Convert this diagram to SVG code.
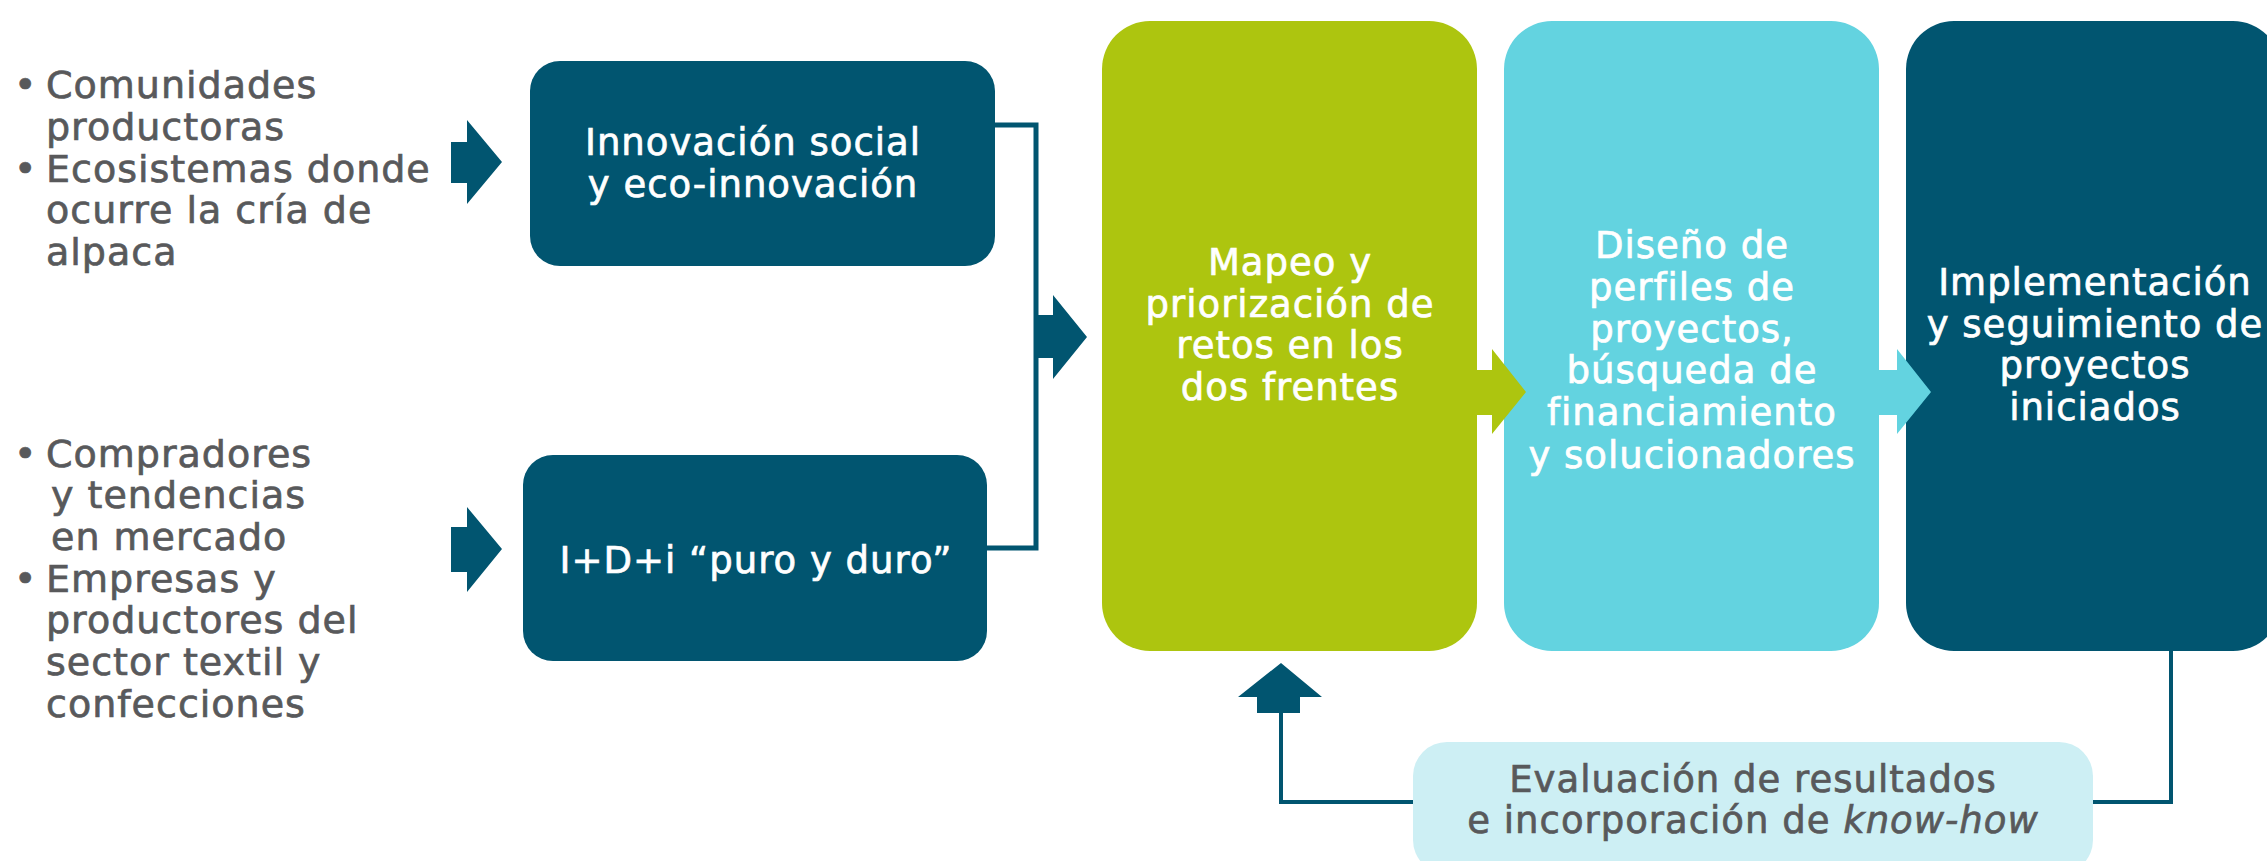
<svg xmlns="http://www.w3.org/2000/svg" width="2267" height="861" viewBox="0 0 2267 861">
<style>
.t{font-family:"DejaVu Sans","Liberation Sans",sans-serif;font-size:37px;letter-spacing:1px}
.side{font-family:"DejaVu Sans","Liberation Sans",sans-serif;font-size:38px;letter-spacing:1px;fill:#58595B;stroke:#58595B;stroke-width:0.7px}
.w{fill:#FFFFFF;stroke:#FFFFFF;stroke-width:0.7px;text-anchor:middle}
.g{fill:#58595B;stroke:#58595B;stroke-width:0.7px;text-anchor:middle}
.dark{fill:#015570}
.green{fill:#ADC50F}
.cyan{fill:#63D3E0}
.light{fill:#CDEFF4}
.ln{fill:none;stroke:#015570}
</style>
<rect width="2267" height="861" fill="#FFFFFF"/>

<g id="inputs-top">
<text class="side" x="14" y="98">•</text>
<text class="side" x="46" y="98">Comunidades</text>
<text class="side" x="46" y="140">productoras</text>
<text class="side" x="14" y="182">•</text>
<text class="side" x="46" y="182">Ecosistemas donde</text>
<text class="side" x="46" y="223">ocurre la cría de</text>
<text class="side" x="46" y="265">alpaca</text>
</g>

<g id="inputs-bottom">
<text class="side" x="14" y="467">•</text>
<text class="side" x="46" y="467">Compradores</text>
<text class="side" x="51" y="508">y tendencias</text>
<text class="side" x="51" y="550">en mercado</text>
<text class="side" x="14" y="592">•</text>
<text class="side" x="46" y="592">Empresas y</text>
<text class="side" x="46" y="633">productores del</text>
<text class="side" x="46" y="675">sector textil y</text>
<text class="side" x="46" y="717">confecciones</text>
</g>

<g id="connectors">
<path class="ln" stroke-width="5" d="M993,125 H1036 V548 H985"/>
<path class="ln" stroke-width="4" d="M1281,710 V802 H1415"/>
<path class="ln" stroke-width="4" d="M2171,649 V802 H2091"/>
<polygon class="dark" points="451,142 467,142 467,120 502,162 467,204 467,183 451,183"/>
<polygon class="dark" points="451,527 467,527 467,507 502,549 467,592 467,572 451,572"/>
<polygon class="dark" points="1038,315 1053,315 1053,295 1087,337 1053,379 1053,358 1038,358"/>
<polygon class="dark" points="1281,663 1322,697 1300,697 1300,713 1257,713 1257,697 1238,697"/>
</g>

<g id="node-innovacion-social">
<rect class="dark" x="530" y="61" width="465" height="205" rx="30" ry="30"/>
<text class="t w" x="753" y="155">Innovación social</text>
<text class="t w" x="753" y="197">y eco-innovación</text>
</g>

<g id="node-idi">
<rect class="dark" x="523" y="455" width="464" height="206" rx="30" ry="30"/>
<text class="t w" x="756" y="573" letter-spacing="0.5">I+D+i “puro y duro”</text>
</g>

<g id="node-mapeo">
<rect class="green" x="1102" y="21" width="375" height="630" rx="48" ry="48"/>
<text class="t w" x="1290" y="275">Mapeo y</text>
<text class="t w" x="1290" y="317">priorización de</text>
<text class="t w" x="1290" y="358">retos en los</text>
<text class="t w" x="1290" y="400">dos frentes</text>
</g>

<g id="node-diseno">
<rect class="cyan" x="1504" y="21" width="375" height="630" rx="48" ry="48"/>
<text class="t w" x="1692" y="258">Diseño de</text>
<text class="t w" x="1692" y="300">perfiles de</text>
<text class="t w" x="1692" y="342">proyectos,</text>
<text class="t w" x="1692" y="383">búsqueda de</text>
<text class="t w" x="1692" y="425">financiamiento</text>
<text class="t w" x="1692" y="468">y solucionadores</text>
</g>

<g id="node-implementacion">
<rect class="dark" x="1906" y="21" width="375" height="630" rx="48" ry="48"/>
<text class="t w" x="2095" y="295">Implementación</text>
<text class="t w" x="2095" y="337">y seguimiento de</text>
<text class="t w" x="2095" y="378">proyectos</text>
<text class="t w" x="2095" y="420">iniciados</text>
</g>

<g id="flow-arrows">
<polygon class="green" points="1477,370 1492,370 1492,349 1526,392 1492,434 1492,415 1477,415"/>
<polygon class="cyan" points="1879,370 1897,370 1897,349 1931,392 1897,434 1897,415 1879,415"/>
</g>

<g id="node-evaluacion">
<rect class="light" x="1413" y="742" width="680" height="132" rx="34" ry="34"/>
<text class="t g" x="1753" y="792">Evaluación de resultados</text>
<text class="t g" x="1753" y="833">e incorporación de <tspan font-style="italic">know-how</tspan></text>
</g>
</svg>
